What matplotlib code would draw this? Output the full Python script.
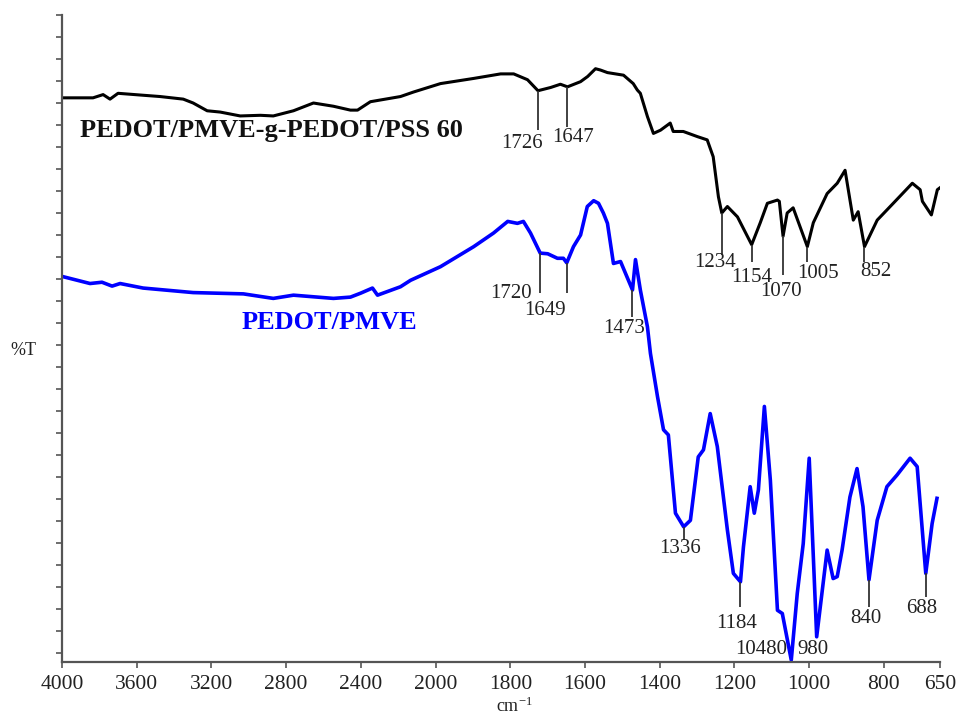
import matplotlib
matplotlib.use("Agg")
import matplotlib.pyplot as plt
import numpy as np
from matplotlib.ticker import FixedLocator, NullFormatter

# ── Data (wavenumber in cm-1, transmittance in arbitrary %T units) ──────
wn_black = [4000, 3834, 3780, 3743, 3700, 3566, 3475, 3351, 3298, 3223,
            3153, 3046, 2938, 2869, 2761, 2654, 2547, 2456, 2418, 2349,
            2188, 2118, 1987, 1898, 1826, 1791, 1754, 1726, 1692, 1666,
            1647, 1612, 1593, 1572, 1559, 1540, 1497, 1471, 1460, 1452,
            1433, 1417, 1398, 1372, 1364, 1337, 1299, 1273, 1257, 1243,
            1234, 1219, 1192, 1154, 1131, 1112, 1085, 1080, 1070, 1059,
            1043, 1005, 989, 952, 925, 904, 882, 869, 852, 818, 775, 724,
            703, 697, 673, 657, 650]
t_black = [87.2, 87.2, 87.7, 87.0, 87.9, 87.6, 87.4, 87.0, 86.4, 85.2,
           85.0, 84.4, 84.5, 84.4, 85.2, 86.4, 85.9, 85.3, 85.3, 86.6,
           87.4, 88.1, 89.4, 90.2, 90.9, 90.9, 90.0, 88.3, 88.8, 89.3,
           88.9, 89.7, 90.5, 91.7, 91.5, 91.1, 90.7, 89.4, 88.4, 87.9,
           84.3, 81.7, 82.2, 83.3, 82.0, 82.0, 81.2, 80.7, 78.1, 71.9,
           69.4, 70.4, 68.8, 64.5, 67.9, 70.9, 71.4, 71.2, 65.8, 69.4,
           70.2, 64.2, 67.9, 72.4, 74.0, 76.0, 68.3, 69.6, 64.2, 68.3,
           70.9, 74.0, 73.0, 71.2, 69.1, 73.0, 73.3]

wn_blue = [4000, 3850, 3786, 3732, 3689, 3566, 3298, 3029, 2869, 2761,
           2547, 2456, 2402, 2338, 2311, 2188, 2134, 1987, 1898, 1845,
           1807, 1781, 1765, 1746, 1720, 1700, 1674, 1658, 1649, 1631,
           1612, 1594, 1577, 1564, 1551, 1540, 1524, 1505, 1473, 1465,
           1452, 1433, 1425, 1406, 1390, 1377, 1366, 1358, 1336, 1318,
           1297, 1283, 1265, 1246, 1219, 1203, 1184, 1176, 1158, 1147,
           1136, 1120, 1104, 1085, 1072, 1048, 1032, 1016, 1000, 980, 952,
           936, 925, 912, 891, 872, 856, 840, 818, 792, 765, 730, 711, 688,
           671, 658]
t_blue = [59.6, 58.5, 58.7, 58.1, 58.5, 57.8, 57.1, 56.9, 56.2, 56.7,
          56.2, 56.4, 57.0, 57.8, 56.7, 58.0, 59.0, 61.1, 64.2, 66.3,
          68.1, 67.8, 68.1, 66.3, 63.2, 63.1, 62.4, 62.4, 61.7, 64.2,
          66.0, 70.4, 71.3, 70.9, 69.4, 67.8, 61.6, 61.9, 57.5, 62.2,
          57.5, 51.8, 47.7, 41.0, 35.9, 35.1, 28.1, 23.0, 20.9, 21.9,
          31.7, 32.8, 38.4, 33.3, 20.4, 13.7, 12.4, 17.8, 27.1, 23.0,
          26.6, 39.5, 28.1, 8.0, 7.5, 0.3, 10.6, 18.3, 31.5, 3.9, 17.3,
          12.9, 13.2, 17.3, 25.5, 29.9, 24.0, 12.7, 21.9, 27.1, 28.9,
          31.5, 30.2, 13.7, 21.4, 25.3]

# peak markers: (position, line top, line bottom)
peaks_black = [1726, 1647, 1234, 1154, 1070, 1005, 852]
peaks_black_top = [88.3, 88.9, 69.4, 64.5, 65.8, 64.2, 64.2]
peaks_black_bot = [82.2, 82.7, 62.9, 61.8, 59.8, 61.8, 61.8]
peaks_blue = [1720, 1649, 1473, 1336, 1184, 840, 688]
peaks_blue_top = [63.2, 61.7, 57.5, 20.9, 12.4, 12.7, 13.7]
peaks_blue_bot = [57.0, 57.0, 53.3, 18.9, 8.5, 8.5, 10.0]

# peak labels: (text, x, y)
labels = ["1726", "1647", "1234", "1154", "1070", "1005", "852",
          "1720", "1649", "1473", "1336", "1184", "10480", "980", "840", "688"]
label_x = [1770, 1631, 1251, 1155, 1075, 976, 821,
           1797, 1706, 1495, 1345, 1195, 1128, 989, 849, 698]
label_y = [80.2, 81.0, 61.8, 59.5, 57.2, 60.1, 60.3,
           57.0, 54.4, 51.6, 17.6, 6.0, 1.9, 1.9, 6.8, 8.3]

x_ticks = [4000, 3600, 3200, 2800, 2400, 2000, 1800, 1600, 1400, 1200,
           1000, 800, 650]


# scale change at 2000 cm-1 (high-wavenumber half is compressed 2x)
def fwd(x):
    x = np.asarray(x, dtype=float)
    return np.where(x > 2000, 2000 + (x - 2000) / 2.0, x)


def inv(u):
    u = np.asarray(u, dtype=float)
    return np.where(u > 2000, 2000 + (u - 2000) * 2.0, u)


plt.rcParams["font.family"] = ["Liberation Serif", "DejaVu Serif"]
plt.rcParams["mathtext.fontset"] = "stix"

fig = plt.figure(figsize=(9.57, 7.15), dpi=100)
ax = fig.add_axes([0.0648, 0.0741, 0.9174, 0.9049])

ax.plot(wn_black, t_black, color="black", lw=2.2, solid_joinstyle="round")
ax.plot(wn_blue, t_blue, color="#0000ff", lw=2.6, solid_joinstyle="round")

ax.vlines(peaks_black, peaks_black_bot, peaks_black_top, color="#333333", lw=1.3)
ax.vlines(peaks_blue, peaks_blue_bot, peaks_blue_top, color="#333333", lw=1.3)

for txt, x, y in zip(labels, label_x, label_y):
    ax.text(x, y, txt, ha="center", va="center", fontsize=15, color="#222222")

ax.text(0.02, 0.821, "PEDOT/PMVE-g-PEDOT/PSS 60", transform=ax.transAxes,
        fontsize=19, fontweight="bold", color="#111111", va="center")
ax.text(0.205, 0.5255, "PEDOT/PMVE", transform=ax.transAxes,
        fontsize=19, fontweight="bold", color="#0000ff", va="center")

ax.set_xscale("function", functions=(fwd, inv))
ax.set_xlim(4000, 650)
ax.set_ylim(0, 100)

ax.xaxis.set_major_locator(FixedLocator(x_ticks))
ax.xaxis.set_minor_locator(FixedLocator([]))
ax.set_xticklabels([str(t) for t in x_ticks])
ax.yaxis.set_major_locator(FixedLocator(np.linspace(1.4, 100, 30)))
ax.yaxis.set_major_formatter(NullFormatter())
ax.yaxis.set_minor_locator(FixedLocator([]))

ax.tick_params(axis="x", direction="out", length=4, width=1.2,
               colors="#555555", labelcolor="#222222", labelsize=15.5, pad=5)
ax.tick_params(axis="y", direction="out", length=4, width=1.2, colors="#555555")

for side in ("top", "right"):
    ax.spines[side].set_visible(False)
for side in ("left", "bottom"):
    ax.spines[side].set_color("#555555")
    ax.spines[side].set_linewidth(1.6)

fig.text(0.538, 0.012, r"cm$^{\mathregular{-1}}$", fontsize=13, color="#222222",
         ha="center", va="center")
fig.text(0.011, 0.51, "%T", fontsize=13, color="#222222", va="center")

fig.savefig("out.png", dpi=100)
